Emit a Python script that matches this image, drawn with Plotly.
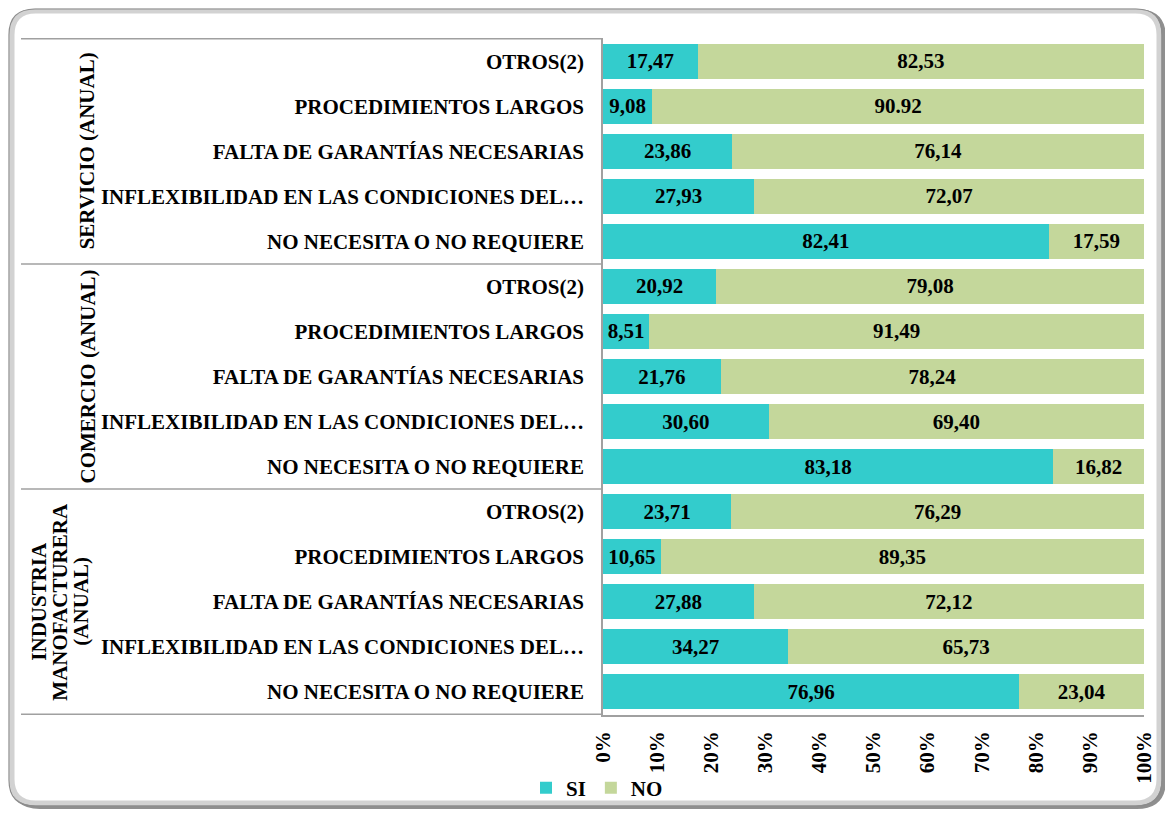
import plotly.graph_objects as go

groups = ["SERVICIO (ANUAL)", "COMERCIO (ANUAL)", "INDUSTRIA MANOFACTURERA (ANUAL)"]
group_lines = [["SERVICIO (ANUAL)"], ["COMERCIO (ANUAL)"],
               ["INDUSTRIA", "MANOFACTURERA", "(ANUAL)"]]
categories = ["OTROS(2)", "PROCEDIMIENTOS LARGOS", "FALTA DE GARANTÍAS NECESARIAS",
              "INFLEXIBILIDAD EN LAS CONDICIONES DEL…", "NO NECESITA O NO REQUIERE"]

si_values = [17.47, 9.08, 23.86, 27.93, 82.41,
             20.92, 8.51, 21.76, 30.60, 83.18,
             23.71, 10.65, 27.88, 34.27, 76.96]
no_values = [82.53, 90.92, 76.14, 72.07, 17.59,
             79.08, 91.49, 78.24, 69.40, 16.82,
             76.29, 89.35, 72.12, 65.73, 23.04]
si_labels = ["17,47", "9,08", "23,86", "27,93", "82,41",
             "20,92", "8,51", "21,76", "30,60", "83,18",
             "23,71", "10,65", "27,88", "34,27", "76,96"]
no_labels = ["82,53", "90.92", "76,14", "72,07", "17,59",
             "79,08", "91,49", "78,24", "69,40", "16,82",
             "76,29", "89,35", "72,12", "65,73", "23,04"]
x_ticks = [0, 10, 20, 30, 40, 50, 60, 70, 80, 90, 100]

# page has an 8px body margin: figure pixel = page pixel - 8
OFF = 8
W, H = 1165, 803
L, T = 603 - OFF, 38 - OFF
PR, PB = 1144 - OFF, 715 - OFF
R, B = W - PR, H - PB
PW, PH = PR - L, PB - T

FONT = "Liberation Serif"
FS = 21

row_ids = [f"{g}|{c}" for g in groups for c in categories]
row_text = [c for g in groups for c in categories]

fig = go.Figure()
fig.add_trace(go.Bar(
    y=row_ids, x=si_values, name="SI", orientation="h",
    marker=dict(color="#33CCCC", line=dict(width=0)),
    text=si_labels, textposition="inside", insidetextanchor="middle",
    constraintext="none", textangle=0,
    textfont=dict(family=FONT, size=FS, color="black", weight="bold"),
))
fig.add_trace(go.Bar(
    y=row_ids, x=no_values, name="NO", orientation="h",
    marker=dict(color="#C4D79B", line=dict(width=0)),
    text=no_labels, textposition="inside", insidetextanchor="middle",
    constraintext="none", textangle=0,
    textfont=dict(family=FONT, size=FS, color="black", weight="bold"),
))


def px(x):  # page pixel x -> paper fraction
    return (x - OFF - L) / PW


def py(y):  # page pixel y -> paper fraction
    return (PB - (y - OFF)) / PH


def rounded(x0, y0, x1, y1, r):
    pts = [
        f"M {px(x0 + r)} {py(y0)}",
        f"L {px(x1 - r)} {py(y0)}",
        f"Q {px(x1)} {py(y0)} {px(x1)} {py(y0 + r)}",
        f"L {px(x1)} {py(y1 - r)}",
        f"Q {px(x1)} {py(y1)} {px(x1 - r)} {py(y1)}",
        f"L {px(x0 + r)} {py(y1)}",
        f"Q {px(x0)} {py(y1)} {px(x0)} {py(y1 - r)}",
        f"L {px(x0)} {py(y0 + r)}",
        f"Q {px(x0)} {py(y0)} {px(x0 + r)} {py(y0)}",
        "Z",
    ]
    return " ".join(pts)


shapes = []
# frame: dark shadow offset to bottom-right, light band, thin outline
shapes.append(dict(type="path", xref="paper", yref="paper", layer="below",
                   path=rounded(14, 12, 1163, 806, 26),
                   line=dict(color="#8f8f8f", width=6)))
shapes.append(dict(type="path", xref="paper", yref="paper", layer="below",
                   path=rounded(12, 11, 1159, 803, 24),
                   line=dict(color="#d2d2d2", width=5), fillcolor="white"))
shapes.append(dict(type="path", xref="paper", yref="paper", layer="below",
                   path=rounded(9, 9, 1162, 806, 26),
                   line=dict(color="#8c8c8c", width=1.2)))

# group separator lines
n = len(categories)
for k in range(len(groups) + 1):
    shapes.append(dict(type="line", xref="paper", yref="y",
                       x0=px(21), x1=0, y0=k * n - 0.5, y1=k * n - 0.5,
                       line=dict(color="#a0a0a0", width=1.5)))

annotations = []
for k, lines in enumerate(group_lines):
    m = len(lines)
    xc = 87 if m == 1 else 60
    for j, line in enumerate(lines):
        annotations.append(dict(
            xref="paper", yref="y", x=px(xc + (j - (m - 1) / 2) * 21),
            y=k * n + (n - 1) / 2,
            text=line, showarrow=False, textangle=-90,
            font=dict(family=FONT, size=FS, color="black", weight="bold"),
            xanchor="center", yanchor="middle", align="center",
        ))

fig.update_layout(
    width=W, height=H,
    margin=dict(l=L, r=R, t=T, b=B, pad=0, autoexpand=False),
    paper_bgcolor="white", plot_bgcolor="white",
    barmode="stack", bargap=0.22,
    font=dict(family=FONT, size=FS, color="black"),
    shapes=shapes, annotations=annotations,
    showlegend=True,
    legend=dict(orientation="h", x=px(526), y=py(788), xanchor="left", yanchor="middle",
                font=dict(family=FONT, size=FS, color="black", weight="bold"),
                itemwidth=30, bgcolor="rgba(0,0,0,0)", traceorder="normal"),
)
fig.update_yaxes(
    type="category", autorange="reversed",
    tickvals=row_ids, ticktext=row_text,
    tickfont=dict(family=FONT, size=FS, color="black", weight="bold"),
    showline=True, linecolor="#a0a0a0", linewidth=1.5,
    showgrid=False, ticks="", ticklabelstandoff=13, zeroline=False,
)
fig.update_xaxes(
    range=[0, 100], tickvals=x_ticks, ticktext=[f"{v}%" for v in x_ticks],
    tickangle=-90, tickfont=dict(family=FONT, size=FS, color="black", weight="bold"),
    showline=True, linecolor="#a0a0a0", linewidth=1.5,
    showgrid=False, ticks="", ticklabelstandoff=6, zeroline=False,
)

fig.write_html("out.html")
